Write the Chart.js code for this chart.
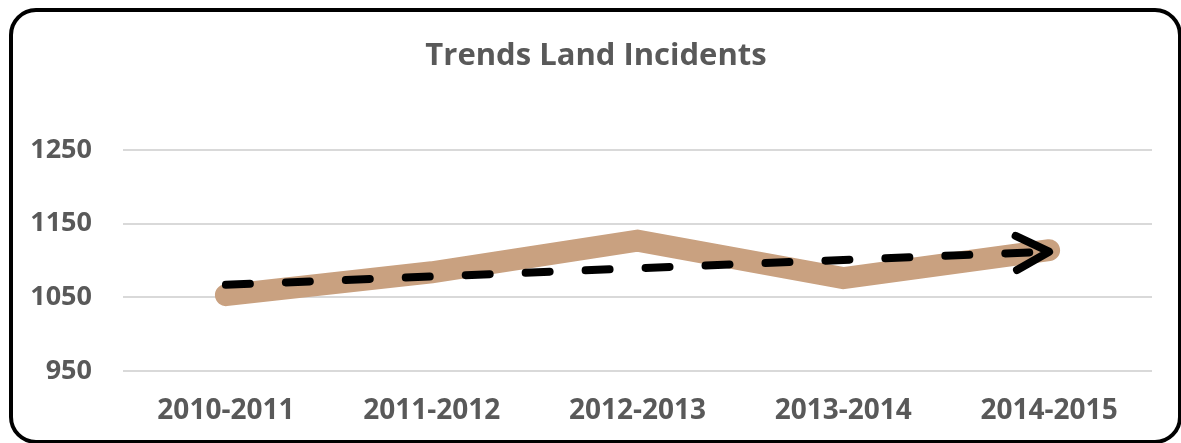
<!DOCTYPE html>
<html>
<head>
<meta charset="utf-8">
<title>Trends Land Incidents</title>
<script src="https://cdn.jsdelivr.net/npm/chart.js@4.4.1/dist/chart.umd.min.js"></script>
<style>
  html, body { margin: 0; padding: 0; background: #fff; overflow: hidden; }
  #wrap { position: relative; width: 1181px; height: 443px; }
  #frame {
    position: absolute; left: 9px; top: 8px; width: 1165px; height: 428px;
    border: 4px solid #000; border-radius: 27px; pointer-events: none;
  }
</style>
</head>
<body>
<div id="wrap">
  <canvas id="incidentsChart" width="1181" height="443"></canvas>
  <div id="frame"></div>
</div>
<script>
const years = ["2010-2011", "2011-2012", "2012-2013", "2013-2014", "2014-2015"];
const incidents = [1053, 1084, 1127, 1076, 1114];
// trend line only has its two end values, the rest are gaps
const trend = [1067, null, null, null, 1112];
const yTicks = [950, 1050, 1150, 1250];
const chartTitle = "Trends Land Incidents";

const textGray = "#595959";
const fontFamily = "'Open Sans', sans-serif";

// title centred on the framed box rather than the padded layout box
const boxTitle = {
  id: "boxTitle",
  afterDraw(chart) {
    const ctx = chart.ctx;
    ctx.save();
    ctx.fillStyle = textGray;
    ctx.font = "bold 31px " + fontFamily;
    ctx.textAlign = "center";
    ctx.textBaseline = "middle";
    ctx.fillText(chartTitle, 596, 56);
    ctx.restore();
  }
};

// open arrow head at the end of the trend line
const arrowHead = {
  id: "arrowHead",
  afterDatasetsDraw(chart) {
    const meta = chart.getDatasetMeta(0);
    const pts = meta.data.filter((p, i) => trend[i] != null);
    if (pts.length < 2) return;
    const a = pts[pts.length - 2], b = pts[pts.length - 1];
    const ang = Math.atan2(b.y - a.y, b.x - a.x);
    const len = 37, spread = 0.48;
    const ctx = chart.ctx;
    ctx.save();
    ctx.strokeStyle = "#000";
    ctx.lineWidth = 8;
    ctx.lineCap = "round";
    ctx.lineJoin = "round";
    ctx.beginPath();
    ctx.moveTo(b.x - len * Math.cos(ang - spread), b.y - len * Math.sin(ang - spread));
    ctx.lineTo(b.x, b.y);
    ctx.lineTo(b.x - len * Math.cos(ang + spread), b.y - len * Math.sin(ang + spread));
    ctx.stroke();
    ctx.restore();
  }
};

const ctx = document.getElementById("incidentsChart").getContext("2d");
new Chart(ctx, {
  type: "line",
  data: {
    labels: years,
    datasets: [
      {
        label: "Trend",
        data: trend,
        borderColor: "#000",
        borderWidth: 8,
        borderDash: [24, 36],
        borderCapStyle: "round",
        spanGaps: true,
        pointRadius: 0,
        fill: false
      },
      {
        label: "Land Incidents",
        data: incidents,
        borderColor: "#C9A180",
        borderWidth: 22,
        borderCapStyle: "round",
        borderJoinStyle: "miter",
        pointRadius: 0,
        tension: 0,
        fill: false
      }
    ]
  },
  plugins: [arrowHead, boxTitle],
  options: {
    responsive: false,
    animation: false,
    layout: { padding: { left: 20, right: 29, top: 150, bottom: 0 } },
    plugins: {
      legend: { display: false },
      tooltip: { enabled: false },
      title: { display: false }
    },
    scales: {
      x: {
        offset: true,
        grid: { display: false, drawTicks: false },
        border: { display: false },
        ticks: {
          color: textGray,
          padding: 23,
          maxRotation: 0,
          font: { family: fontFamily, size: 28, weight: "bold" }
        },
        afterFit(scale) { scale.height = 72; }
      },
      y: {
        min: yTicks[0],
        max: yTicks[yTicks.length - 1],
        afterBuildTicks(scale) { scale.ticks = yTicks.map(v => ({ value: v })); },
        grid: { color: "#D9D9D9", lineWidth: 2, drawTicks: false },
        border: { display: false },
        ticks: {
          color: textGray,
          padding: 31,
          callback: v => String(v),
          font: { family: fontFamily, size: 27, weight: "bold" }
        },
        afterFit(scale) { scale.width = 103; }
      }
    }
  }
});
</script>
</body>
</html>
